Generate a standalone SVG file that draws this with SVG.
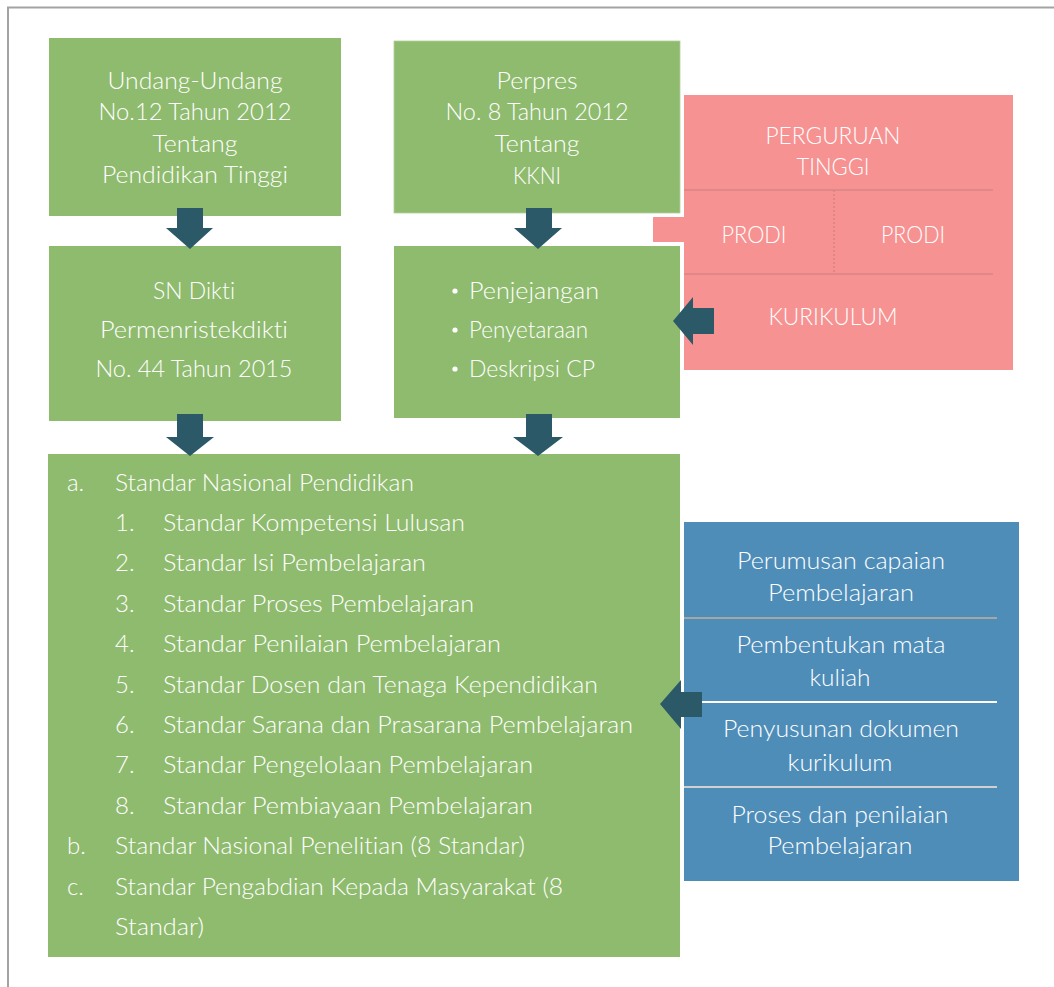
<svg xmlns="http://www.w3.org/2000/svg" width="1054" height="987" viewBox="0 0 1054 987">
  <style>
    .green { fill: #8fbb6f; }
    .pink { fill: #f79292; }
    .blue { fill: #4f8db9; }
    .t { font-family: "Lato", "Open Sans", "Liberation Sans", sans-serif; font-weight: 300; font-size: 24px; fill: #ffffff; font-variant-ligatures: none; }
    .c { text-anchor: middle; }
    .arrow { fill: #2b5967; }
    .sep { stroke: #d98383; stroke-width: 1.6; fill: none; }
  </style>

  <rect x="0" y="0" width="1054" height="987" fill="#ffffff"/>
  <!-- page frame -->
  <polyline points="8,987 8,7.5 1054,7.5" fill="none" stroke="#a3a3a3" stroke-width="2"/>

  <!-- Undang-Undang -->
  <g id="uu">
    <rect class="green" x="49" y="38" width="292" height="178"/>
    <text class="t c" x="195" y="89" textLength="175" lengthAdjust="spacingAndGlyphs">Undang-Undang</text>
    <text class="t c" x="195" y="120" textLength="193" lengthAdjust="spacingAndGlyphs">No.12 Tahun 2012</text>
    <text class="t c" x="195" y="152" textLength="85" lengthAdjust="spacingAndGlyphs">Tentang</text>
    <text class="t c" x="195" y="183" textLength="186" lengthAdjust="spacingAndGlyphs">Pendidikan Tinggi</text>
  </g>

  <!-- Perpres -->
  <g id="perpres">
    <rect class="green" x="394" y="41" width="286" height="172" stroke="#b4d09f" stroke-width="0.8"/>
    <text class="t c" x="537" y="89" textLength="81" lengthAdjust="spacingAndGlyphs">Perpres</text>
    <text class="t c" x="537" y="120" textLength="183" lengthAdjust="spacingAndGlyphs">No. 8 Tahun 2012</text>
    <text class="t c" x="537" y="152" textLength="85" lengthAdjust="spacingAndGlyphs">Tentang</text>
    <text class="t c" x="537" y="184" textLength="48" lengthAdjust="spacingAndGlyphs">KKNI</text>
  </g>

  <!-- Perguruan Tinggi -->
  <g id="perguruan-tinggi">
    <rect class="pink" x="684" y="95" width="329" height="275"/>
    <rect class="pink" x="653" y="217" width="32" height="25"/>
    <line class="sep" x1="684" y1="190" x2="993" y2="190"/>
    <line class="sep" x1="684" y1="274" x2="993" y2="274"/>
    <line class="sep" x1="834" y1="190" x2="834" y2="274" stroke-dasharray="2 2" stroke-width="2"/>
    <text class="t c" x="833" y="144" textLength="135" lengthAdjust="spacingAndGlyphs">PERGURUAN</text>
    <text class="t c" x="833" y="175" textLength="73" lengthAdjust="spacingAndGlyphs">TINGGI</text>
    <text class="t c" x="754" y="243" textLength="65" lengthAdjust="spacingAndGlyphs">PRODI</text>
    <text class="t c" x="913" y="243" textLength="64" lengthAdjust="spacingAndGlyphs">PRODI</text>
    <text class="t c" x="833" y="325" textLength="129" lengthAdjust="spacingAndGlyphs">KURIKULUM</text>
  </g>

  <!-- SN Dikti -->
  <g id="sn-dikti">
    <rect class="green" x="49" y="246" width="292" height="175"/>
    <text class="t c" x="194" y="299" textLength="82" lengthAdjust="spacingAndGlyphs">SN Dikti</text>
    <text class="t c" x="194" y="338" textLength="188" lengthAdjust="spacingAndGlyphs">Permenristekdikti</text>
    <text class="t c" x="194" y="377" textLength="197" lengthAdjust="spacingAndGlyphs">No. 44 Tahun 2015</text>
  </g>

  <!-- KKNI points -->
  <g id="kkni">
    <rect class="green" x="394" y="246" width="286" height="172"/>
    <circle cx="455" cy="291" r="2.6" fill="#ffffff"/>
    <circle cx="455" cy="330" r="2.6" fill="#ffffff"/>
    <circle cx="455" cy="369" r="2.6" fill="#ffffff"/>
    <text class="t" x="469" y="299" textLength="130" lengthAdjust="spacingAndGlyphs">Penjejangan</text>
    <text class="t" x="469" y="338" textLength="119" lengthAdjust="spacingAndGlyphs">Penyetaraan</text>
    <text class="t" x="469" y="377" textLength="126" lengthAdjust="spacingAndGlyphs">Deskripsi CP</text>
  </g>

  <!-- Standar Nasional -->
  <g id="standar">
    <rect class="green" x="48" y="454" width="632" height="503"/>
    <text class="t" x="67" y="490.5">a.</text>
    <text class="t" x="115" y="490.5" textLength="299" lengthAdjust="spacingAndGlyphs">Standar Nasional Pendidikan</text>
    <text class="t" x="115" y="530.9">1.</text>
    <text class="t" x="163" y="530.9" textLength="302" lengthAdjust="spacingAndGlyphs">Standar Kompetensi Lulusan</text>
    <text class="t" x="115" y="571.3">2.</text>
    <text class="t" x="163" y="571.3" textLength="263" lengthAdjust="spacingAndGlyphs">Standar Isi Pembelajaran</text>
    <text class="t" x="115" y="611.7">3.</text>
    <text class="t" x="163" y="611.7" textLength="311" lengthAdjust="spacingAndGlyphs">Standar Proses Pembelajaran</text>
    <text class="t" x="115" y="652.1">4.</text>
    <text class="t" x="163" y="652.1" textLength="338" lengthAdjust="spacingAndGlyphs">Standar Penilaian Pembelajaran</text>
    <text class="t" x="115" y="692.5">5.</text>
    <text class="t" x="163" y="692.5" textLength="435" lengthAdjust="spacingAndGlyphs">Standar Dosen dan Tenaga Kependidikan</text>
    <text class="t" x="115" y="732.9">6.</text>
    <text class="t" x="163" y="732.9" textLength="470" lengthAdjust="spacingAndGlyphs">Standar Sarana dan Prasarana Pembelajaran</text>
    <text class="t" x="115" y="773.3">7.</text>
    <text class="t" x="163" y="773.3" textLength="370" lengthAdjust="spacingAndGlyphs">Standar Pengelolaan Pembelajaran</text>
    <text class="t" x="115" y="813.7">8.</text>
    <text class="t" x="163" y="813.7" textLength="370" lengthAdjust="spacingAndGlyphs">Standar Pembiayaan Pembelajaran</text>
    <text class="t" x="67" y="854.1">b.</text>
    <text class="t" x="115" y="854.1" textLength="410" lengthAdjust="spacingAndGlyphs">Standar Nasional Penelitian (8 Standar)</text>
    <text class="t" x="67" y="894.5">c.</text>
    <text class="t" x="115" y="894.5" textLength="448" lengthAdjust="spacingAndGlyphs">Standar Pengabdian Kepada Masyarakat (8</text>
    <text class="t" x="115" y="934.9" textLength="89" lengthAdjust="spacingAndGlyphs">Standar)</text>
  </g>

  <!-- Kurikulum steps -->
  <g id="langkah">
    <rect class="blue" x="684" y="522" width="335" height="359"/>
    <line x1="684" y1="618" x2="997" y2="618" stroke="#a6a6a6" stroke-width="2"/>
    <line x1="684" y1="702" x2="997" y2="702" stroke="#ffffff" stroke-width="2"/>
    <line x1="684" y1="787" x2="997" y2="787" stroke="#d0d0d0" stroke-width="2"/>
    <text class="t c" x="841" y="569" textLength="208" lengthAdjust="spacingAndGlyphs">Perumusan capaian</text>
    <text class="t c" x="841" y="601" textLength="146" lengthAdjust="spacingAndGlyphs">Pembelajaran</text>
    <text class="t c" x="841" y="653" textLength="209" lengthAdjust="spacingAndGlyphs">Pembentukan mata</text>
    <text class="t c" x="840" y="686" textLength="61" lengthAdjust="spacingAndGlyphs">kuliah</text>
    <text class="t c" x="841" y="737" textLength="236" lengthAdjust="spacingAndGlyphs">Penyusunan dokumen</text>
    <text class="t c" x="840" y="771" textLength="105" lengthAdjust="spacingAndGlyphs">kurikulum</text>
    <text class="t c" x="840" y="823" textLength="217" lengthAdjust="spacingAndGlyphs">Proses dan penilaian</text>
    <text class="t c" x="840" y="854" textLength="145" lengthAdjust="spacingAndGlyphs">Pembelajaran</text>
  </g>

  <!-- connectors: block arrows -->
  <g id="connectors">
    <polygon class="arrow" points="177,208 203,208 203,228 213,228 190,249 166,228 177,228"/>
    <polygon class="arrow" points="526,208 552,208 552,228 562,228 538,249 514,228 526,228"/>
    <polygon class="arrow" points="177,414 203,414 203,437 214,437 190,456 166,437 177,437"/>
    <polygon class="arrow" points="526,414 552,414 552,437 563,437 538,456 513,437 526,437"/>
    <polygon class="arrow" points="714,308 714,334 693,334 693,345 673,321 693,297 693,308"/>
    <polygon class="arrow" points="702,692 702,717 681,717 681,729 660,704 681,680 681,692"/>
  </g>
</svg>
